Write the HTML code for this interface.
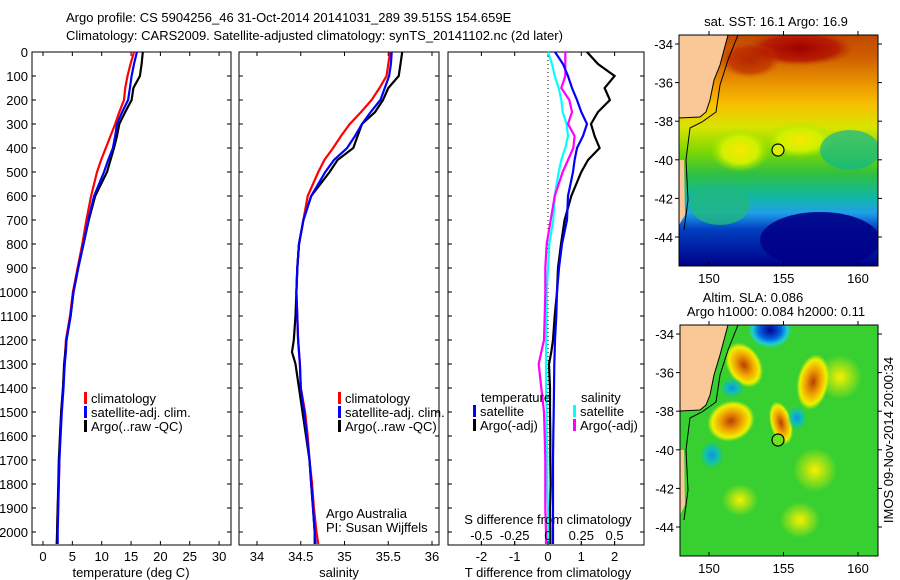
<!DOCTYPE html>
<html><head><meta charset="utf-8"><style>
body{margin:0;background:#fff;}
svg{display:block;font-family:"Liberation Sans",sans-serif;font-size:13px;}
</style></head><body>
<svg id="fig" width="900" height="580" viewBox="0 0 900 580">
<defs>
<linearGradient id="sstg" x1="0" y1="0" x2="0" y2="1">
<stop offset="0" stop-color="#c04800"/><stop offset="0.1" stop-color="#d06000"/>
<stop offset="0.2" stop-color="#e89000"/><stop offset="0.3" stop-color="#f8c000"/>
<stop offset="0.4" stop-color="#d8e400"/><stop offset="0.5" stop-color="#80d800"/>
<stop offset="0.6" stop-color="#30c040"/><stop offset="0.7" stop-color="#10b8a0"/>
<stop offset="0.77" stop-color="#20a0e8"/><stop offset="0.84" stop-color="#0040c0"/>
<stop offset="1" stop-color="#000088"/></linearGradient>
<radialGradient id="gOr"><stop offset="0" stop-color="#b84000"/><stop offset="0.45" stop-color="#f0a000"/><stop offset="0.8" stop-color="#f0f000"/><stop offset="1" stop-color="#f0f000" stop-opacity="0"/></radialGradient>
<radialGradient id="gYe"><stop offset="0" stop-color="#f8e800"/><stop offset="0.6" stop-color="#d0f000"/><stop offset="1" stop-color="#a0e800" stop-opacity="0"/></radialGradient>
<radialGradient id="gBl"><stop offset="0" stop-color="#000090"/><stop offset="0.5" stop-color="#0060e0"/><stop offset="0.8" stop-color="#20d0d0"/><stop offset="1" stop-color="#20d0d0" stop-opacity="0"/></radialGradient>
<radialGradient id="gCy"><stop offset="0" stop-color="#1090e0"/><stop offset="0.5" stop-color="#10c0b0"/><stop offset="1" stop-color="#10c0b0" stop-opacity="0"/></radialGradient>
<radialGradient id="gYs"><stop offset="0" stop-color="#f8f000"/><stop offset="1" stop-color="#f8f000" stop-opacity="0"/></radialGradient>
<radialGradient id="gDr"><stop offset="0" stop-color="#a00000"/><stop offset="0.7" stop-color="#b82000"/><stop offset="1" stop-color="#c04800" stop-opacity="0"/></radialGradient>
<clipPath id="c1"><rect x="679" y="35" width="199" height="231"/></clipPath>
<clipPath id="c2"><rect x="680" y="325" width="198" height="231"/></clipPath>
</defs>

<text x="66" y="22">Argo profile: CS 5904256_46 31-Oct-2014 20141031_289 39.515S 154.659E</text>
<text x="66" y="40">Climatology: CARS2009. Satellite-adjusted climatology: synTS_20141102.nc (2d later)</text>

<g id="p1"></g>
<g id="p2"></g>
<g id="p3"></g>

<g>
<text x="776" y="26" text-anchor="middle">sat. SST: 16.1 Argo: 16.9</text>
<g clip-path="url(#c1)">
<rect x="679" y="35" width="199" height="231" fill="url(#sstg)"/>
<ellipse cx="800" cy="48" rx="55" ry="18" fill="url(#gDr)"/>
<ellipse cx="750" cy="60" rx="30" ry="18" fill="url(#gDr)" opacity="0.6"/>
<ellipse cx="740" cy="150" rx="30" ry="22" fill="url(#gYe)"/>
<ellipse cx="800" cy="140" rx="35" ry="18" fill="url(#gYe)"/>
<ellipse cx="850" cy="150" rx="30" ry="20" fill="#10b890" opacity="0.7"/>
<ellipse cx="820" cy="240" rx="60" ry="28" fill="#000088" opacity="0.9"/>
<ellipse cx="720" cy="205" rx="30" ry="20" fill="#20b880" opacity="0.8"/>
<path d="M679,35 L728,35 L724,50 L720,65 L714,80 L710,100 L706,112 L700,117 L679,118 Z" fill="#fac896" stroke="#000" stroke-width="1"/>
<path d="M679,160 L684,160 L685,215 L679,225 Z" fill="#fac896"/>
<path d="M738,35 L728,60 L720,85 L716,112 L702,122 L690,128 L686,160 L688,200 L684,230" fill="none" stroke="#000" stroke-width="1"/>
<circle cx="778" cy="150" r="6" fill="#d8f000" stroke="#000" stroke-width="1.2"/>
</g>
<rect x="679" y="35" width="199" height="231" fill="none" stroke="#000"/>
<g id="m1ax"></g>
</g>

<g>
<text x="753" y="302" text-anchor="middle">Altim. SLA: 0.086</text>
<text x="776" y="316" text-anchor="middle">Argo h1000: 0.084 h2000: 0.11</text>
<g clip-path="url(#c2)">
<rect x="680" y="325" width="198" height="231" fill="#38d030"/>
<ellipse cx="840" cy="377" rx="22" ry="22" fill="url(#gYs)"/>
<ellipse cx="815" cy="470" rx="22" ry="22" fill="url(#gYs)"/>
<ellipse cx="740" cy="500" rx="18" ry="16" fill="url(#gYs)"/>
<ellipse cx="800" cy="520" rx="20" ry="18" fill="url(#gYs)"/>
<ellipse cx="770" cy="330" rx="22" ry="18" fill="url(#gBl)"/>
<ellipse cx="744" cy="365" rx="17" ry="24" transform="rotate(-30 744 365)" fill="url(#gOr)"/>
<ellipse cx="813" cy="382" rx="16" ry="28" transform="rotate(10 813 382)" fill="url(#gOr)"/>
<ellipse cx="731" cy="421" rx="24" ry="20" transform="rotate(-20 731 421)" fill="url(#gOr)"/>
<ellipse cx="781" cy="423" rx="11" ry="22" transform="rotate(-15 781 423)" fill="url(#gOr)"/>
<ellipse cx="712" cy="455" rx="12" ry="14" fill="url(#gCy)"/>
<ellipse cx="797" cy="418" rx="10" ry="12" fill="url(#gCy)"/>
<ellipse cx="732" cy="388" rx="12" ry="10" fill="url(#gCy)"/>
<path d="M680,325 L728,325 L724,340 L720,355 L714,375 L710,395 L706,405 L700,410 L680,411 Z" fill="#fac896" stroke="#000" stroke-width="1"/>
<path d="M680,450 L684,450 L685,505 L680,515 Z" fill="#fac896"/>
<path d="M738,325 L728,350 L720,375 L716,402 L702,412 L690,418 L686,450 L688,490 L684,520" fill="none" stroke="#000" stroke-width="1"/>
<circle cx="778" cy="440" r="6" fill="#70e020" stroke="#000" stroke-width="1.2"/>
</g>
<rect x="680" y="325" width="198" height="231" fill="none" stroke="#000"/>
<g id="m2ax"></g>
<text transform="translate(893,440) rotate(-90)" text-anchor="middle">IMOS 09-Nov-2014 20:00:34</text>
</g>
</svg>
<script>
const depths = [0,50,100,150,200,250,300,350,400,450,500,600,700,800,900,1000,1100,1200,1250,1300,1400,1500,1600,1700,1800,1900,2000,2050];
const tClim = [15.5,14.9,14.4,14.0,13.8,13.0,12.3,11.5,10.7,9.9,9.2,8.2,7.4,6.7,5.9,5.1,4.6,3.9,3.8,3.7,3.4,3.1,2.9,2.8,2.7,2.5,2.4,2.3];
const tSat  = [16.0,15.5,15.1,14.8,14.5,13.5,12.6,12.3,11.9,11.1,10.4,8.7,7.7,6.9,6.0,5.2,4.7,4.0,3.9,3.7,3.5,3.2,3.0,2.8,2.7,2.6,2.5,2.5];
const tArgo = [17.0,16.8,16.5,15.4,15.1,14.0,13.0,12.6,12.1,11.5,10.9,8.9,7.8,6.9,6.0,5.2,4.7,4.0,3.8,3.6,3.4,3.1,2.9,2.7,2.6,2.5,2.4,2.4];
const sClim = [35.52,35.5,35.48,35.4,35.31,35.19,35.06,34.96,34.87,34.77,34.7,34.58,34.53,34.48,34.46,34.45,34.46,34.47,34.48,34.49,34.5,34.55,34.58,34.6,34.63,34.65,34.68,34.7];
const sSat  = [35.54,35.53,35.51,35.46,35.41,35.3,35.2,35.12,35.03,34.88,34.78,34.62,34.53,34.48,34.46,34.45,34.46,34.47,34.48,34.49,34.5,34.54,34.57,34.6,34.62,34.64,34.66,34.67];
const sArgo = [35.66,35.64,35.62,35.5,35.44,35.35,35.2,35.15,35.1,34.92,34.83,34.62,34.53,34.48,34.46,34.45,34.44,34.42,34.4,34.44,34.48,34.52,34.56,34.6,34.62,34.64,34.66,34.66];
const dTSat  = [0.21,0.45,0.6,0.72,0.87,1.0,1.17,1.05,0.87,0.8,0.75,0.6,0.57,0.42,0.33,0.27,0.25,0.21,0.2,0.19,0.18,0.17,0.16,0.15,0.15,0.15,0.15,0.15];
const dTArgo = [1.17,1.5,2.0,1.7,1.86,1.5,1.29,1.4,1.55,1.2,1.0,0.7,0.5,0.39,0.3,0.27,0.2,0.15,0.1,0.03,0.06,0.06,0.07,0.07,0.08,0.06,0.07,0.07];
const dSSat  = [0.0,0.03,0.05,0.08,0.1,0.11,0.14,0.15,0.13,0.1,0.08,0.05,0.04,0.01,0.0,-0.01,-0.01,-0.015,-0.015,-0.015,-0.015,-0.01,-0.01,-0.005,-0.005,0,0,0];
const dSArgo = [0.13,0.13,0.13,0.1,0.16,0.18,0.15,0.2,0.19,0.15,0.11,0.05,0.02,-0.01,-0.02,-0.02,-0.025,-0.03,-0.05,-0.07,-0.05,-0.03,-0.025,-0.02,-0.02,-0.02,-0.015,-0.015];
const depthTicks = [0,100,200,300,400,500,600,700,800,900,1000,1100,1200,1300,1400,1500,1600,1700,1800,1900,2000];
const tTicks = [0,5,10,15,20,25,30];
const sTicks = [34,34.5,35,35.5,36];
const dtTicks = [-2,-1,0,1,2];
const dsTicks = [-0.5,-0.25,0,0.25,0.5];
const lonTicks = [150,155,160];
const latTicks = [-34,-36,-38,-40,-42,-44];

const NS='http://www.w3.org/2000/svg';
const yD = d => 52 + d*0.24;
const xT = t => 43 + t*5.87;
const xS = s => 257 + (s-34)*87.5;
const xDT = t => 548 + t*33.3;
const xDS = s => 548 + s*133.2;
function el(tag, attrs, parent, txt){const e=document.createElementNS(NS,tag);for(const k in attrs)e.setAttribute(k,attrs[k]);if(txt!==undefined)e.textContent=txt;parent.appendChild(e);return e;}

function panel(g,x0,x1,ticks,xf,fmt){
  const r=el('rect',{x:x0,y:52,width:x1-x0,height:493,fill:'none',stroke:'#000'},g);
  
  
  ticks.forEach(t=>{const x=xf(t);
    el('line',{x1:x,x2:x,y1:545,y2:541,stroke:'#000'},g);
    el('line',{x1:x,x2:x,y1:52,y2:56,stroke:'#000'},g);
    const tx=el('text',{x:x,y:561,'text-anchor':'middle'},g,fmt(t));
    
    
  });
  depthTicks.forEach(d=>{const y=yD(d);
    el('line',{x1:x0,x2:x0+4,y1:y,y2:y,stroke:'#000'},g);
    el('line',{x1:x1,x2:x1-4,y1:y,y2:y,stroke:'#000'},g);
  });
}
function line(g,xs,xf,color,name){
  const pts=depths.map((d,i)=>xf(xs[i]).toFixed(1)+','+yD(d).toFixed(1)).join(' ');
  const p=el('polyline',{points:pts,fill:'none',stroke:color,'stroke-width':2.2},g);
  
  
}
function legend(g,x,y,items){
  items.forEach((it,i)=>{
    el('rect',{x:x,y:y+i*14-11,width:3,height:12,fill:it[0]},g);
    const t=el('text',{x:x+7,y:y+i*14},g,it[1]);
    
    
  });
}
const p1=document.getElementById('p1'),p2=document.getElementById('p2'),p3=document.getElementById('p3');
panel(p1,32,231,tTicks,xT,String);
depthTicks.forEach(d=>{const t=el('text',{x:28,y:yD(d)+5,'text-anchor':'end'},p1,String(d));
  
  });
line(p1,tClim,xT,'#f00','temp-climatology-line');
line(p1,tArgo,xT,'#000','temp-argo-line');
line(p1,tSat,xT,'#00f','temp-satellite-line');
legend(p1,84,403,[['#f00','climatology'],['#00f','satellite-adj. clim.'],['#000','Argo(..raw -QC)']]);
el('text',{x:131,y:577,'text-anchor':'middle'},p1,'temperature (deg C)');

panel(p2,239,439,sTicks,xS,String);
line(p2,sClim,xS,'#f00','sal-climatology-line');
line(p2,sArgo,xS,'#000','sal-argo-line');
line(p2,sSat,xS,'#00f','sal-satellite-line');
legend(p2,338,403,[['#f00','climatology'],['#00f','satellite-adj. clim.'],['#000','Argo(..raw -QC)']]);
el('text',{x:339,y:577,'text-anchor':'middle'},p2,'salinity');
el('text',{x:326,y:518},p2,'Argo Australia');
el('text',{x:326,y:532},p2,'PI: Susan Wijffels');

panel(p3,448,644,dtTicks,xDT,String);
el('line',{x1:548,x2:548,y1:52,y2:545,stroke:'#000','stroke-dasharray':'1,3'},p3);
line(p3,dSSat,xDS,'#0ff','sal-diff-satellite-line');
line(p3,dSArgo,xDS,'#f0f','sal-diff-argo-line');
line(p3,dTArgo,xDT,'#000','temp-diff-argo-line');
line(p3,dTSat,xDT,'#00f','temp-diff-satellite-line');
dsTicks.forEach(s=>{const x=xDS(s);el('line',{x1:x,x2:x,y1:545,y2:541,stroke:'#000'},p3);
  const t=el('text',{x:x,y:540,'text-anchor':'middle'},p3,String(s));
  
  });
el('text',{x:548,y:524,'text-anchor':'middle'},p3,'S difference from climatology');
el('text',{x:548,y:577,'text-anchor':'middle'},p3,'T difference from climatology');
el('text',{x:481,y:402},p3,'temperature');
el('text',{x:581,y:402},p3,'salinity');
legend(p3,473,416,[['#00f','satellite'],['#000','Argo(-adj)']]);
legend(p3,573,416,[['#0ff','satellite'],['#f0f','Argo(-adj)']]);

function mapAxes(id,x0,x1,y0,y1,latTop){
  const g=document.getElementById(id);
  const lx=l=>709+(l-150)*14.9, ly=l=>latTop+(-34-l)*19.3;
  lonTicks.forEach(l=>{const x=lx(l);
    el('line',{x1:x,x2:x,y1:y1,y2:y1-4,stroke:'#000'},g);
    el('line',{x1:x,x2:x,y1:y0,y2:y0-4,stroke:'#000'},g);
    const t=el('text',{x:x,y:y1+17,'text-anchor':'middle'},g,String(l));
    
    });
  latTicks.forEach(l=>{const y=ly(l);
    el('line',{x1:x0-4,x2:x0,y1:y,y2:y,stroke:'#000'},g);
    el('line',{x1:x1,x2:x1+4,y1:y,y2:y,stroke:'#000'},g);
    const t=el('text',{x:x0-6,y:y+5,'text-anchor':'end'},g,String(l));
    
    });
}
mapAxes('m1ax',679,878,35,266,44);
mapAxes('m2ax',680,878,325,556,334);
</script>
</body></html>
